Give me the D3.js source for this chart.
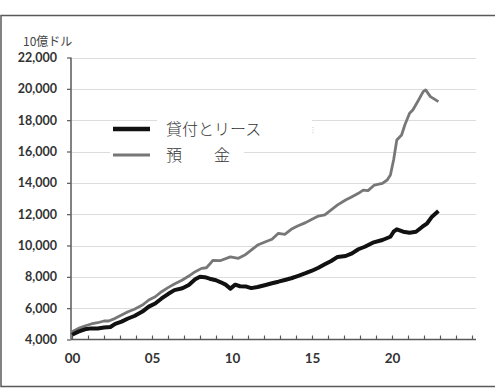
<!DOCTYPE html>
<html>
<head>
<meta charset="utf-8">
<script src="https://cdn.jsdelivr.net/npm/d3@7"></script>
<style>
  html, body { margin: 0; padding: 0; background: #fff; }
  svg { display: block; }
</style>
</head>
<body>
<svg id="chart" width="495" height="391"></svg>
<script>
// US commercial banks: loans & leases vs deposits (billions of USD)
const loanYears = [2000.0, 2000.4, 2000.8, 2001.2, 2001.6, 2002.0, 2002.4, 2002.7, 2003.1, 2003.5,
  2003.9, 2004.4, 2004.8, 2005.2, 2005.6, 2006.0, 2006.4, 2006.9, 2007.3, 2007.7,
  2008.0, 2008.3, 2008.6, 2009.0, 2009.3, 2009.6, 2009.9, 2010.2, 2010.5, 2010.9,
  2011.2, 2011.6, 2012.1, 2012.5, 2012.9, 2013.3, 2013.7, 2014.1, 2014.6, 2015.0,
  2015.4, 2015.8, 2016.2, 2016.6, 2017.1, 2017.5, 2017.9, 2018.3, 2018.8, 2019.4,
  2019.9, 2020.1, 2020.3, 2020.7, 2021.1, 2021.5, 2021.9, 2022.2, 2022.5, 2022.9];
const loanValues = [4300, 4500, 4650, 4710, 4700, 4760, 4800, 5000, 5140, 5340,
  5500, 5780, 6100, 6300, 6620, 6900, 7150, 7270, 7480, 7840,
  8000, 7980, 7880, 7780, 7650, 7500, 7250, 7500, 7400, 7380,
  7280, 7350, 7480, 7590, 7690, 7800, 7910, 8050, 8230, 8390,
  8580, 8800, 9010, 9270, 9330, 9500, 9760, 9920, 10180, 10350,
  10560, 10880, 11030, 10880, 10820, 10880, 11200, 11420, 11840, 12200];

const depositYears = [2000.0, 2000.4, 2000.8, 2001.2, 2001.6, 2002.0, 2002.3, 2002.7, 2003.1, 2003.5,
  2003.9, 2004.4, 2004.8, 2005.2, 2005.6, 2006.0, 2006.4, 2006.9, 2007.3, 2007.7,
  2008.1, 2008.4, 2008.6, 2008.8, 2009.25, 2009.9, 2010.4, 2010.8, 2011.2, 2011.6,
  2012.1, 2012.5, 2012.9, 2013.3, 2013.7, 2014.1, 2014.6, 2015.0, 2015.4, 2015.8,
  2016.2, 2016.6, 2017.1, 2017.5, 2017.9, 2018.2, 2018.5, 2018.9, 2019.4, 2019.7,
  2019.9, 2020.1, 2020.3, 2020.6, 2020.8, 2021.1, 2021.3, 2021.6, 2021.95, 2022.1,
  2022.4, 2022.9];
const depositValues = [4500, 4710, 4860, 4990, 5070, 5180, 5180, 5350, 5560, 5770,
  5930, 6200, 6520, 6730, 7050, 7310, 7540, 7800, 8050, 8330,
  8540, 8580, 8800, 9050, 9030, 9270, 9180, 9390, 9710, 10030,
  10240, 10400, 10780, 10710, 11030, 11240, 11460, 11670, 11880, 11950,
  12270, 12590, 12900, 13110, 13330, 13540, 13500, 13860, 13970, 14180,
  14500, 15460, 16730, 17050, 17690, 18440, 18650, 19180, 19820, 19930,
  19500, 19180];

const yTicks = [4000, 6000, 8000, 10000, 12000, 14000, 16000, 18000, 20000, 22000];
const xTickYears = d3.range(2000, 2026);
const xLabelYears = [2000, 2005, 2010, 2015, 2020];

const seriesNames = ["貸付とリース", "預　　金"];
const unitLabel = "10億ドル";

const svg = d3.select("#chart");
const x = d3.scaleLinear().domain([2000, 2025.25]).range([72, 476]);
const y = d3.scaleLinear().domain([4000, 22000]).range([339.5, 57.5]);

// outer frame
svg.append("path")
  .attr("d", "M495,15.5 H1 V386.5 H495")
  .attr("fill", "none").attr("stroke", "#5a5a5a").attr("stroke-width", 1.5);

// horizontal gridlines
svg.append("g").selectAll("line").data(yTicks.slice(1)).join("line")
  .attr("x1", 72).attr("x2", 476)
  .attr("y1", d => Math.round(y(d)) + 0.5).attr("y2", d => Math.round(y(d)) + 0.5)
  .attr("stroke", "#dcdcdc").attr("stroke-width", 1);

// legend backdrop boxes over the gridlines
svg.append("rect").attr("x", 157).attr("y", 112).attr("width", 155).attr("height", 27).attr("fill", "#fff");
svg.append("rect").attr("x", 110).attr("y", 141).attr("width", 134).attr("height", 24).attr("fill", "#fff");
svg.append("line").attr("x1", 313).attr("x2", 313).attr("y1", 127).attr("y2", 134)
  .attr("stroke", "#c8c8c8").attr("stroke-width", 1).attr("stroke-dasharray", "1,1.5");

// y axis
const yAxis = d3.axisLeft(y).tickValues(yTicks).tickSize(4).tickPadding(10)
  .tickFormat(d3.format(","));
const gy = svg.append("g").attr("transform", "translate(71,0)").call(yAxis);
gy.select(".domain").attr("stroke", "#595959").attr("stroke-width", 1.5).attr("d", "M0,57.5V339.5");
gy.selectAll(".tick line").attr("stroke", "#595959").attr("stroke-width", 1.2);
gy.selectAll(".tick text")
  .attr("font-family", "Lato, 'Open Sans', sans-serif").attr("font-weight", 700)
  .attr("font-size", 12.5).attr("fill", "#333");

// x axis with inward ticks
const xAxis = d3.axisBottom(x).tickValues(xTickYears).tickSize(-4).tickPadding(0)
  .tickFormat(() => "");
const gx = svg.append("g").attr("transform", "translate(0,339.5)").call(xAxis);
gx.select(".domain").attr("stroke", "#595959").attr("stroke-width", 1.5).attr("d", "M71,0H476");
gx.selectAll(".tick line").attr("stroke", "#595959").attr("stroke-width", 1.2);

svg.append("g").selectAll("text").data(xLabelYears).join("text")
  .attr("x", d => x(d) + 0.5).attr("y", 363)
  .attr("text-anchor", "middle")
  .attr("font-family", "Lato, 'Open Sans', sans-serif").attr("font-weight", 700)
  .attr("font-size", 13.5).attr("fill", "#333")
  .text(d => d3.format("02")(d % 100));

// unit label
svg.append("text").attr("x", 23).attr("y", 45.5)
  .attr("font-family", "'Noto Sans CJK JP', sans-serif").attr("font-size", 12)
  .attr("fill", "#444").text(unitLabel);

// series lines
const line = d3.line().x(d => x(d[0])).y(d => y(d[1]));
const deposits = depositYears.map((t, i) => [t, depositValues[i]]);
const loans = loanYears.map((t, i) => [t, loanValues[i]]);

svg.append("path").datum(deposits).attr("d", line)
  .attr("fill", "none").attr("stroke", "#777").attr("stroke-width", 2.8)
  .attr("stroke-linejoin", "round");
svg.append("path").datum(loans).attr("d", line)
  .attr("fill", "none").attr("stroke", "#111").attr("stroke-width", 4)
  .attr("stroke-linejoin", "round");

// legend
const legend = [
  { name: seriesNames[0], color: "#111", width: 4.5, y: 129 },
  { name: seriesNames[1], color: "#777", width: 3, y: 155 }
];
const lg = svg.append("g");
lg.selectAll("line").data(legend).join("line")
  .attr("x1", 113).attr("x2", 150).attr("y1", d => d.y).attr("y2", d => d.y)
  .attr("stroke", d => d.color).attr("stroke-width", d => d.width);
lg.selectAll("text").data(legend).join("text")
  .attr("x", 166).attr("y", d => d.y + 5.5)
  .attr("font-family", "'Noto Sans CJK JP', sans-serif").attr("font-size", 16)
  .attr("font-weight", 300).attr("fill", "#333")
  .text(d => d.name);
</script>
</body>
</html>
